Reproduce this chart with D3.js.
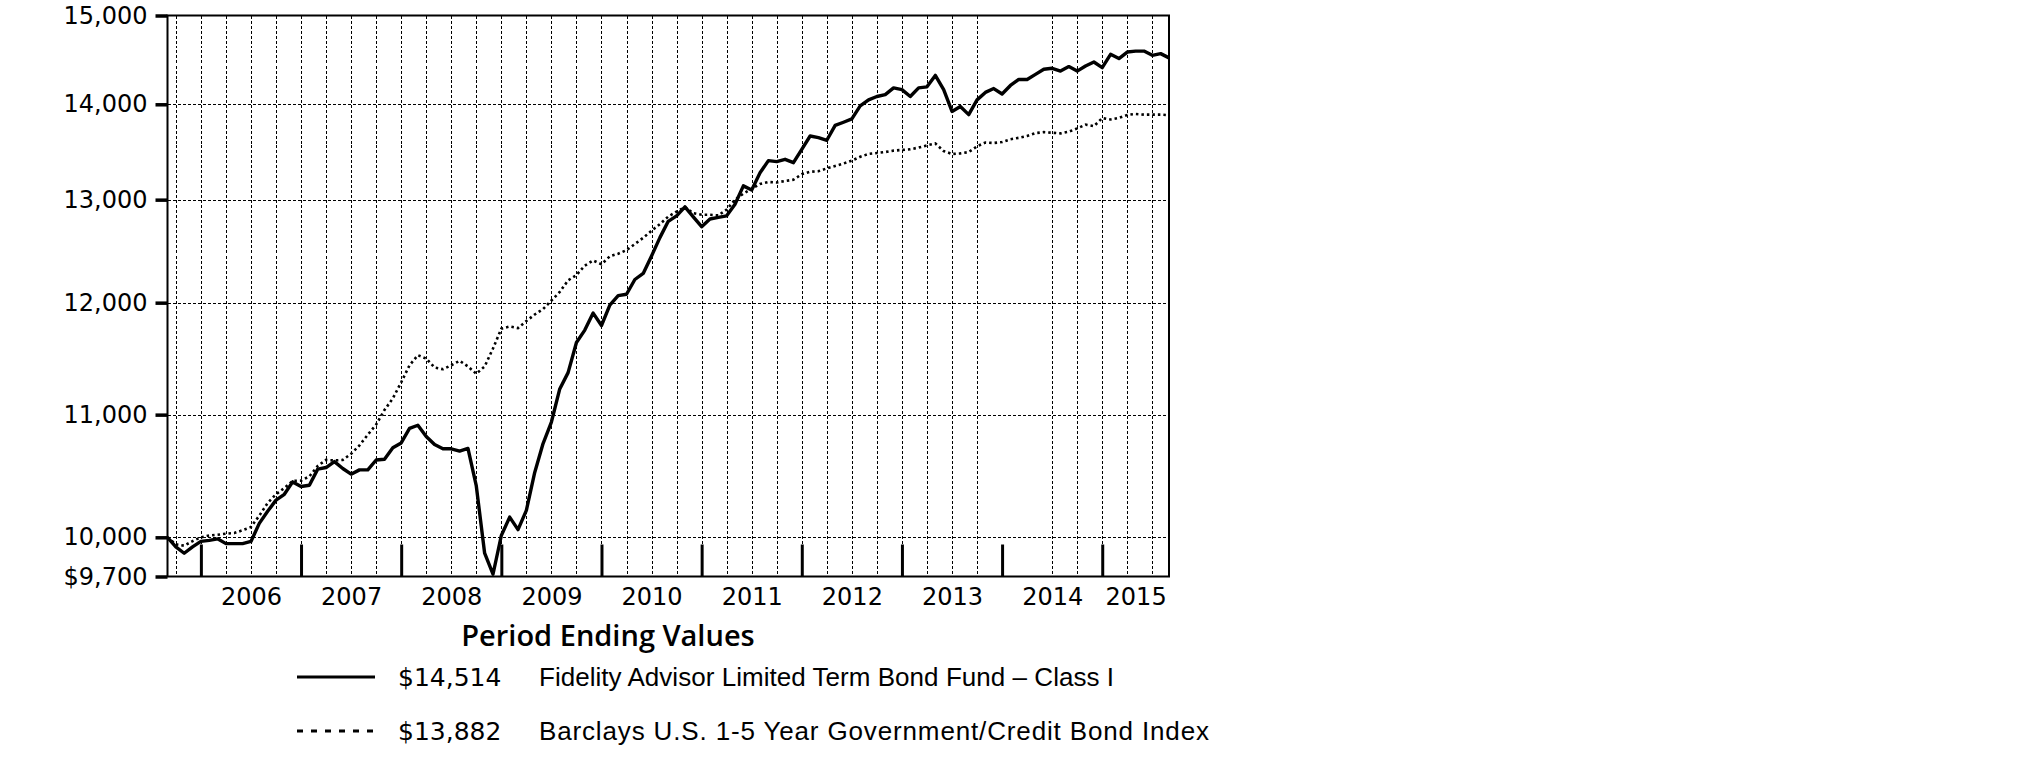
<!DOCTYPE html>
<html>
<head>
<meta charset="utf-8">
<script src="https://cdn.jsdelivr.net/npm/d3@7/dist/d3.min.js"></script>
<style>
  html, body { margin: 0; padding: 0; background: #fff; }
  svg { display: block; }
</style>
</head>
<body>
<svg id="chart" width="2026" height="778"></svg>
<script>
// ---------------- data ----------------
const startMonth = "2005-08";           // first monthly point (Aug 31, 2005)
const yearLabels = ["2006","2007","2008","2009","2010","2011","2012","2013","2014","2015"];
const yTickValues = [9700, 10000, 11000, 12000, 13000, 14000, 15000];
const missingGridMonths = ["2013-12", "2014-03"];

const fundName = "Fidelity Advisor Limited Term Bond Fund \u2013 Class I";
const indexName = "Barclays U.S. 1-5 Year Government/Credit Bond Index";
const fundEnding = "$14,514";
const indexEnding = "$13,882";

const fundValues = [
  10000, 9926, 9877, 9926, 9968, 9976, 9988, 9951, 9951, 9951, 9968, 10109,
  10204, 10293, 10340, 10440, 10403, 10413, 10544, 10557, 10606, 10549, 10503, 10538,
  10538, 10619, 10625, 10720, 10761, 10883, 10910, 10815, 10747, 10712, 10712, 10693,
  10715, 10407, 9877, 9717, 10014, 10158, 10060, 10212, 10517, 10756, 10937, 11222,
  11365, 11634, 11747, 11903, 11789, 11978, 12066, 12079, 12218, 12276, 12444, 12622,
  12783, 12837, 12928, 12828, 12730, 12806, 12822, 12838, 12954, 13140, 13098, 13274,
  13400, 13390, 13414, 13379, 13519, 13659, 13642, 13614, 13772, 13806, 13842, 13982,
  14048, 14085, 14105, 14180, 14161, 14085, 14180, 14191, 14318, 14161, 13922, 13975,
  13888, 14048, 14130, 14172, 14112, 14206, 14273, 14273, 14329, 14386, 14397, 14366,
  14416, 14366, 14423, 14468, 14405, 14554, 14506, 14580, 14591, 14591, 14543, 14562,
  14514
];
const indexValues = [
  10000, 9945, 9935, 9970, 10000, 10014, 10020, 10028, 10033, 10055, 10080, 10170,
  10270, 10340, 10390, 10448, 10450, 10485, 10570, 10620, 10615, 10620, 10670, 10740,
  10830, 10915, 11040, 11140, 11280, 11430, 11520, 11490, 11410, 11395, 11430, 11470,
  11420, 11355, 11420, 11580, 11760, 11780, 11765, 11830, 11890, 11940, 12020, 12100,
  12210, 12260, 12350, 12400, 12363, 12440, 12465, 12500, 12560, 12620, 12690, 12755,
  12830, 12880, 12925, 12864, 12848, 12848, 12842, 12900, 13000, 13060, 13110, 13160,
  13180, 13175, 13190, 13203, 13260, 13285, 13291, 13320, 13345, 13370, 13400, 13440,
  13470, 13480, 13490, 13505, 13512, 13519, 13537, 13560, 13580, 13500, 13470, 13476,
  13490, 13550, 13590, 13585, 13595, 13625, 13640, 13660, 13690, 13700, 13694, 13687,
  13705, 13740, 13780, 13764, 13850, 13835, 13853, 13885, 13895, 13888, 13888, 13888,
  13882
];

// ---------------- setup ----------------
const parseMonth = d3.utcParse("%Y-%m");
const fmtMonth = d3.utcFormat("%Y-%m");
const t0 = parseMonth(startMonth);
const months = fundValues.map((_, i) => d3.utcMonth.offset(t0, i));
const nLast = months.length - 1;

const svg = d3.select("#chart");
svg.append("rect").attr("width", 2026).attr("height", 778).attr("fill", "#fff");

const plot = { left: 167.5, right: 1169, top: 15.5, bottom: 576.5 };
const x = d3.scaleLinear().domain([0, nLast]).range([plot.left, plot.right]);
const y = d3.scaleLog().domain([9700, 15000]).range([plot.bottom, plot.top]);

const FONT_NUM = "'DejaVu Sans', Verdana, sans-serif";
const FONT_TXT = "'Liberation Sans', Arial, sans-serif";

// month indices
const decIdx = months.map((m, i) => ({ m, i })).filter(d => d.m.getUTCMonth() === 11).map(d => d.i);
const quarterIdx = months.map((m, i) => ({ m, i }))
  .filter(d => d.i > 0 && d.i < nLast && d.m.getUTCMonth() % 3 === 2 && !missingGridMonths.includes(fmtMonth(d.m)))
  .map(d => d.i);

// ---------------- grid ----------------
const grid = svg.append("g").attr("stroke", "#000").attr("stroke-width", 1)
  .attr("stroke-dasharray", "3,2").attr("shape-rendering", "crispEdges");
grid.selectAll("line.v").data(quarterIdx).join("line").attr("class", "v")
  .attr("x1", d => Math.round(x(d)) + 0.5).attr("x2", d => Math.round(x(d)) + 0.5)
  .attr("y1", plot.top).attr("y2", plot.bottom);
grid.selectAll("line.h").data(yTickValues.slice(1, -1)).join("line").attr("class", "h")
  .attr("x1", plot.left).attr("x2", plot.right)
  .attr("y1", d => Math.round(y(d)) + 0.5).attr("y2", d => Math.round(y(d)) + 0.5);

// ---------------- frame ----------------
svg.append("rect")
  .attr("x", plot.left).attr("y", plot.top)
  .attr("width", plot.right - plot.left).attr("height", plot.bottom - plot.top)
  .attr("fill", "none").attr("stroke", "#000").attr("stroke-width", 2);

// ---------------- y axis ----------------
const yAxis = d3.axisLeft(y).tickValues(yTickValues).tickSize(12).tickSizeOuter(0).tickPadding(8)
  .tickFormat(d => (d === 9700 ? "$" : "") + d3.format(",")(d));
const gy = svg.append("g").attr("transform", `translate(${plot.left},0)`).call(yAxis);
gy.select(".domain").remove();
gy.selectAll(".tick line").attr("stroke", "#000").attr("stroke-width", 3.5);
gy.selectAll(".tick text").attr("font-family", FONT_NUM).attr("font-size", 24).attr("fill", "#000");

// ---------------- x axis: year boundary ticks ----------------
const xTicks = d3.axisBottom(x).tickValues(decIdx).tickSize(-32).tickSizeOuter(0).tickFormat("");
const gx = svg.append("g").attr("transform", `translate(0,${plot.bottom})`).call(xTicks);
gx.select(".domain").remove();
gx.selectAll(".tick line").attr("stroke", "#000").attr("stroke-width", 3);

// ---------------- x axis: year labels centred in each year span ----------------
const yearCenters = yearLabels.map(yr => {
  const idx = months.map((m, i) => ({ m, i })).filter(d => d.m.getUTCFullYear() === +yr).map(d => d.i);
  const lo = Math.max(0, d3.min(idx) - 1), hi = d3.max(idx);
  return (lo + hi) / 2;
});
const xLabels = d3.axisBottom(x).tickValues(yearCenters).tickSize(0).tickPadding(11)
  .tickFormat((d, i) => yearLabels[i]);
const gxl = svg.append("g").attr("transform", `translate(0,${plot.bottom})`).call(xLabels);
gxl.select(".domain").remove();
gxl.selectAll(".tick text").attr("font-family", FONT_NUM).attr("font-size", 24).attr("fill", "#000");

// ---------------- lines ----------------
const line = d3.line().x((d, i) => x(i)).y(d => y(d));
svg.append("path").datum(indexValues).attr("d", line)
  .attr("fill", "none").attr("stroke", "#000").attr("stroke-width", 2.6)
  .attr("stroke-dasharray", "2.5,3");
svg.append("path").datum(fundValues).attr("d", line)
  .attr("fill", "none").attr("stroke", "#000").attr("stroke-width", 3.4).attr("stroke-linejoin", "round");

// ---------------- legend ----------------
svg.append("text").attr("x", 608).attr("y", 636).attr("dy", "0.35em")
  .attr("text-anchor", "middle").attr("font-family", "'Open Sans', sans-serif")
  .attr("font-weight", 600).attr("font-size", 29).attr("fill", "#000")
  .text("Period Ending Values");

const legendRows = [
  { y: 677, dash: null, value: fundEnding, name: fundName, width: 575 },
  { y: 731, dash: "6,8", value: indexEnding, name: indexName, width: 670 }
];
const lg = svg.append("g").selectAll("g").data(legendRows).join("g");
lg.append("line").attr("x1", 297).attr("x2", 375).attr("y1", d => d.y).attr("y2", d => d.y)
  .attr("stroke", "#000").attr("stroke-width", 3).attr("stroke-dasharray", d => d.dash);
lg.append("text").attr("x", 398).attr("y", d => d.y).attr("dy", "0.36em")
  .attr("font-family", FONT_NUM).attr("font-size", 25).attr("fill", "#000").text(d => d.value);
lg.append("text").attr("x", 539).attr("y", d => d.y).attr("dy", "0.36em")
  .attr("font-family", FONT_TXT).attr("font-size", 26).attr("fill", "#000")
  .attr("textLength", d => d.width).attr("lengthAdjust", "spacing")
  .text(d => d.name);
</script>
</body>
</html>
